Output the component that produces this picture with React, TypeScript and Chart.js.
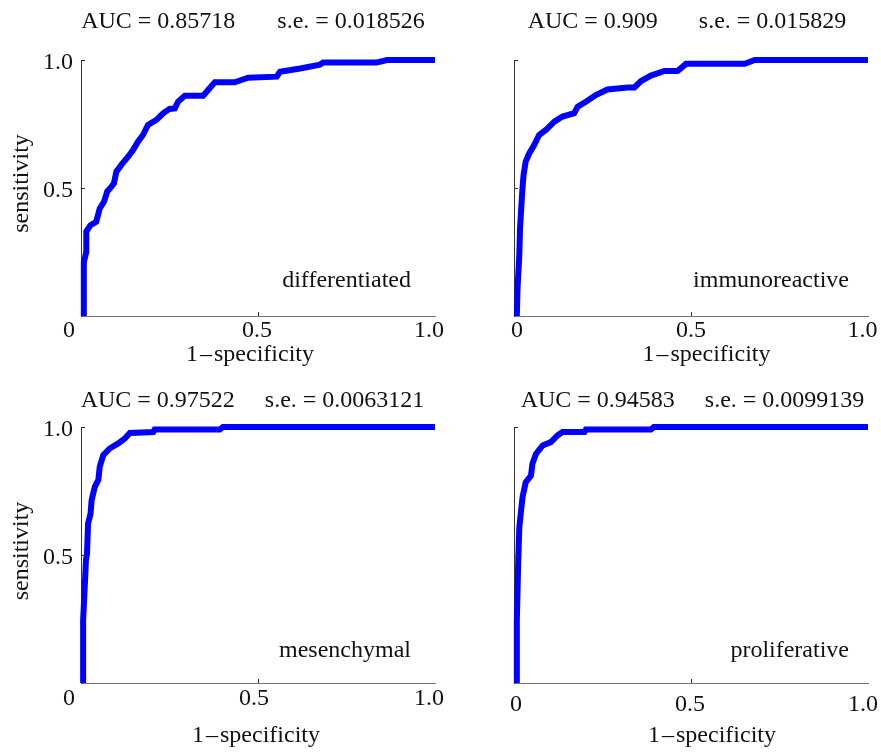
import React, { useEffect, useRef } from "react";
import { Chart, registerables } from "chart.js";

Chart.register(...registerables);

// ---------- data ----------
const panelNames = ["differentiated", "immunoreactive", "mesenchymal", "proliferative"];
const aucValues = ["0.85718", "0.909", "0.97522", "0.94583"];
const seValues = ["0.018526", "0.015829", "0.0063121", "0.0099139"];

const xTickValues = [0, 0.5, 1];
const xTickLabels = ["0", "0.5", "1.0"];
const yTickValues = [0.5, 1];
const yTickLabels = ["0.5", "1.0"];
const xAxisTitle = "1\u200a\u2013\u200aspecificity";
const yAxisTitle = "sensitivity";

const differentiatedFpr = [0.008, 0.008, 0.015, 0.015, 0.027, 0.043, 0.053, 0.065, 0.074, 0.086, 0.093, 0.1, 0.114, 0.133, 0.147, 0.161, 0.175, 0.189, 0.213, 0.232, 0.25, 0.265, 0.274, 0.293, 0.345, 0.359, 0.378, 0.434, 0.453, 0.472, 0.553, 0.562, 0.619, 0.675, 0.684, 0.835, 0.864, 1];
const differentiatedTpr = [0, 0.21, 0.25, 0.33, 0.355, 0.368, 0.42, 0.446, 0.486, 0.505, 0.518, 0.564, 0.59, 0.622, 0.648, 0.681, 0.707, 0.746, 0.766, 0.792, 0.809, 0.811, 0.837, 0.86, 0.86, 0.883, 0.913, 0.913, 0.922, 0.931, 0.935, 0.954, 0.967, 0.982, 0.99, 0.99, 1, 1];

const immunoreactiveFpr = [0.008, 0.01, 0.015, 0.017, 0.021, 0.024, 0.027, 0.033, 0.043, 0.057, 0.071, 0.09, 0.114, 0.137, 0.17, 0.18, 0.203, 0.231, 0.264, 0.321, 0.34, 0.359, 0.387, 0.425, 0.462, 0.486, 0.652, 0.68, 1];
const immunoreactiveTpr = [0, 0.108, 0.238, 0.342, 0.434, 0.499, 0.551, 0.603, 0.635, 0.668, 0.707, 0.727, 0.759, 0.779, 0.792, 0.818, 0.837, 0.863, 0.885, 0.893, 0.893, 0.918, 0.939, 0.957, 0.957, 0.985, 0.985, 1, 1];

const mesenchymalFpr = [0.006, 0.006, 0.011, 0.014, 0.017, 0.02, 0.027, 0.03, 0.039, 0.049, 0.053, 0.063, 0.081, 0.105, 0.124, 0.138, 0.204, 0.208, 0.392, 0.401, 1];
const mesenchymalTpr = [0, 0.245, 0.388, 0.48, 0.506, 0.623, 0.662, 0.714, 0.766, 0.793, 0.845, 0.89, 0.916, 0.936, 0.955, 0.977, 0.98, 0.99, 0.99, 1, 1];

const proliferativeFpr = [0.008, 0.008, 0.012, 0.015, 0.019, 0.024, 0.033, 0.048, 0.052, 0.062, 0.081, 0.104, 0.123, 0.137, 0.199, 0.203, 0.387, 0.395, 1];
const proliferativeTpr = [0, 0.242, 0.477, 0.608, 0.66, 0.725, 0.784, 0.81, 0.856, 0.895, 0.928, 0.941, 0.967, 0.98, 0.98, 0.99, 0.99, 1, 1];

const fprSeries = [differentiatedFpr, immunoreactiveFpr, mesenchymalFpr, proliferativeFpr];
const tprSeries = [differentiatedTpr, immunoreactiveTpr, mesenchymalTpr, proliferativeTpr];

// ---------- layout / style ----------
const FONT = '24px "Liberation Serif", "Times New Roman", serif';
const TEXT_COLOR = "#111";

const layouts = [
  { left: 0, top: 0, w: 470, h: 376, pad: { left: 81, top: 60, right: 35, bottom: 60 }, showY: true, titleDx: -5, titleDy: 32, gap: 42, xTickDx: [-12, -1, -6], xTickDy: 21, xLabelDx: -8, xLabelDy: 45, yLabelX: -53, yLabelDy: -4.5, nameDx: -24, nameDy: -29 },
  { left: 440, top: 0, w: 441, h: 376, pad: { left: 74, top: 60, right: 13, bottom: 60 }, showY: false, titleDx: -4, titleDy: 32, gap: 41, xTickDx: [3, 0, -5.5], xTickDy: 21, xLabelDx: 15.5, xLabelDy: 45, yLabelX: 0, yLabelDy: 0, nameDx: -19, nameDy: -29 },
  { left: 0, top: 376, w: 470, h: 377, pad: { left: 81, top: 51, right: 35, bottom: 70 }, showY: true, titleDx: -5.5, titleDy: 20, gap: 30, xTickDx: [-12, -4, -6], xTickDy: 22, xLabelDx: -2, xLabelDy: 59, yLabelX: -53, yLabelDy: -4, nameDx: -24, nameDy: -26 },
  { left: 440, top: 376, w: 441, h: 377, pad: { left: 74, top: 51, right: 13, bottom: 70 }, showY: false, titleDx: 1.5, titleDy: 20, gap: 30, xTickDx: [2, -1, -5], xTickDy: 28, xLabelDx: 21, xLabelDy: 59, yLabelX: 0, yLabelDy: 0, nameDx: -19, nameDy: -26 },
];

const panelTextPlugin = {
  id: "panelText",
  afterDraw(chart: any, _args: any, opts: any) {
    const idx = opts.idx as number;
    const L = layouts[idx];
    const { ctx, chartArea: a } = chart;
    const xs = chart.scales.x;
    const ys = chart.scales.y;
    ctx.save();

    // inward tick marks
    ctx.strokeStyle = "#333";
    ctx.lineWidth = 1;
    for (const v of yTickValues) {
      const y = Math.round(ys.getPixelForValue(v)) + 0.5;
      ctx.beginPath();
      ctx.moveTo(a.left, y);
      ctx.lineTo(a.left + 4, y);
      ctx.stroke();
    }
    {
      const x = Math.round(xs.getPixelForValue(0.5)) + 0.5;
      ctx.beginPath();
      ctx.moveTo(x, a.bottom);
      ctx.lineTo(x, a.bottom - 4);
      ctx.stroke();
    }

    ctx.font = FONT;
    ctx.fillStyle = TEXT_COLOR;
    ctx.textBaseline = "alphabetic";
    const cx = (a.left + a.right) / 2;

    // title
    const leftText = `AUC = ${aucValues[idx]}`;
    const rightText = `s.e. = ${seValues[idx]}`;
    const wl = ctx.measureText(leftText).width;
    const wr = ctx.measureText(rightText).width;
    const x0 = cx + L.titleDx - (wl + L.gap + wr) / 2;
    ctx.textAlign = "left";
    ctx.fillText(leftText, x0, a.top - L.titleDy);
    ctx.fillText(rightText, x0 + wl + L.gap, a.top - L.titleDy);

    // y tick labels
    if (L.showY) {
      ctx.textAlign = "right";
      yTickValues.forEach((v, i) => {
        ctx.fillText(yTickLabels[i], a.left - 8, ys.getPixelForValue(v) + 9);
      });
    }

    // x tick labels
    ctx.textAlign = "center";
    xTickValues.forEach((v, i) => {
      ctx.fillText(xTickLabels[i], xs.getPixelForValue(v) + L.xTickDx[i], a.bottom + L.xTickDy);
    });

    // x axis title
    ctx.fillText(xAxisTitle, cx + L.xLabelDx, a.bottom + L.xLabelDy);

    // y axis title
    if (L.showY) {
      ctx.save();
      ctx.translate(a.left + L.yLabelX, (a.top + a.bottom) / 2 + L.yLabelDy);
      ctx.rotate(-Math.PI / 2);
      ctx.textAlign = "center";
      ctx.fillText(yAxisTitle, 0, 0);
      ctx.restore();
    }

    // panel name
    ctx.textAlign = "right";
    ctx.fillText(panelNames[idx], a.right + L.nameDx, a.bottom + L.nameDy);

    ctx.restore();
  },
};

function Panel({ idx }: { idx: number }) {
  const ref = useRef<HTMLCanvasElement>(null);
  const L = layouts[idx];
  useEffect(() => {
    if (!ref.current) return;
    const fpr = fprSeries[idx];
    const tpr = tprSeries[idx];
    const chart = new Chart(ref.current, {
      type: "line",
      data: {
        datasets: [
          {
            data: fpr.map((x, i) => ({ x, y: tpr[i] })),
            borderColor: "#0000ff",
            borderWidth: 6,
            pointRadius: 0,
            tension: 0,
            fill: false,
            clip: false,
            borderJoinStyle: "miter",
          } as any,
        ],
      },
      options: {
        responsive: false,
        animation: false,
        events: [],
        layout: { padding: L.pad },
        plugins: {
          legend: { display: false },
          tooltip: { enabled: false },
          title: { display: false },
          panelText: { idx },
        } as any,
        scales: {
          x: {
            type: "linear",
            min: 0,
            max: 1,
            ticks: { display: false },
            grid: { display: false, drawTicks: false },
            border: { display: true, color: "#777", width: 1 },
            afterFit: (s: any) => { s.height = 0; },
          },
          y: {
            type: "linear",
            min: 0,
            max: 1,
            ticks: { display: false },
            grid: { display: false, drawTicks: false },
            border: { display: true, color: "#333", width: 1 },
            afterFit: (s: any) => { s.width = 0; },
          },
        },
      },
      plugins: [panelTextPlugin],
    });
    return () => chart.destroy();
  }, [idx]);
  return (
    <canvas
      ref={ref}
      width={L.w}
      height={L.h}
      style={{ position: "absolute", left: L.left, top: L.top, width: L.w, height: L.h }}
    />
  );
}

export default function App() {
  return (
    <div style={{ position: "absolute", left: 0, top: 0, width: 881, height: 753, background: "#fff", overflow: "hidden" }}>
      {[0, 1, 2, 3].map((i) => (
        <Panel key={i} idx={i} />
      ))}
    </div>
  );
}
